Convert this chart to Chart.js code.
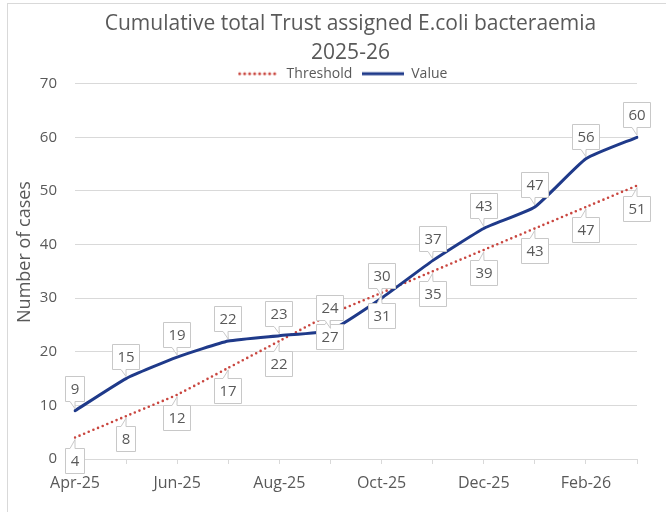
<!DOCTYPE html>
<html>
<head>
<meta charset="utf-8">
<script src="https://cdn.jsdelivr.net/npm/chart.js@4/dist/chart.umd.min.js"></script>
<style>
  html, body { margin: 0; padding: 0; background: #ffffff; }
  #wrap { position: relative; width: 666px; height: 512px; }
</style>
</head>
<body>
<div id="wrap"><canvas id="c" width="666" height="512"></canvas></div>
<script>
// Monthly categories (April 2025 – March 2026)
const months = ['Apr-25', 'May-25', 'Jun-25', 'Jul-25', 'Aug-25', 'Sep-25',
                'Oct-25', 'Nov-25', 'Dec-25', 'Jan-26', 'Feb-26', 'Mar-26'];
// Cumulative threshold trajectory
const threshold = [4, 8, 12, 17, 22, 27, 31, 35, 39, 43, 47, 51];
// Cumulative actual cases
const value = [9, 15, 19, 22, 23, 24, 30, 37, 43, 47, 56, 60];
// Title lines and axis range
const titleLines = ['Cumulative total Trust assigned E.coli bacteraemia', '2025-26'];
const yTitle = 'Number of cases';
const yMin = 0, yMax = 70, yStep = 10;

const FONT = "'Open Sans', 'Liberation Sans', sans-serif";
const TEXT = '#595959';
const RED = '#c9463f';
const NAVY = '#1f3a8a';

// Small legend swatches: dotted red and solid navy
function swatch(color, dotted) {
  const c = document.createElement('canvas');
  c.width = 42; c.height = 6;
  const g = c.getContext('2d');
  g.strokeStyle = color;
  g.lineWidth = 3;
  g.lineCap = dotted ? 'round' : 'butt';
  if (dotted) g.setLineDash([0, 5]);
  g.beginPath();
  g.moveTo(dotted ? 2 : 0, 3);
  g.lineTo(42, 3);
  g.stroke();
  return c;
}

// Light frame around the chart
const framePlugin = {
  id: 'frame',
  beforeDraw(chart) {
    const ctx = chart.ctx;
    ctx.save();
    ctx.strokeStyle = '#d9d9d9';
    ctx.lineWidth = 1;
    ctx.strokeRect(7.5, 3.5, 800, 800);
    ctx.restore();
  }
};

// Keep the legend row tight against the plot and centre title/legend
// over the full chart object
const layoutTweak = {
  id: 'layoutTweak',
  beforeLayout(chart) {
    const lg = chart.legend;
    if (lg && !lg._trimmed) {
      const fit = lg.fit.bind(lg);
      lg.fit = function () {
        fit();
        this.height = Math.max(0, this.height - 7);
      };
      lg._trimmed = true;
    }
  },
  afterLayout(chart) {
    const t = chart.titleBlock;
    if (t) { t.left += 28; t.right += 28; }
    const lg = chart.legend;
    if (lg) { lg.left += 20; lg.right += 20; }
  }
};

// Rotated value-axis title
const yTitlePlugin = {
  id: 'yTitle',
  afterDraw(chart) {
    const ctx = chart.ctx;
    ctx.save();
    ctx.translate(25, 252);
    ctx.rotate(-Math.PI / 2);
    ctx.font = '18px ' + FONT;
    ctx.fillStyle = TEXT;
    ctx.textAlign = 'center';
    ctx.textBaseline = 'middle';
    ctx.fillText(yTitle, 0, 0);
    ctx.restore();
  }
};

// Boxed value labels with a small pointer to each point
const calloutPlugin = {
  id: 'callouts',
  afterDatasetsDraw(chart) {
    const ctx = chart.ctx;
    ctx.save();
    ctx.font = '15px ' + FONT;
    ctx.textAlign = 'center';
    ctx.textBaseline = 'middle';
    chart.data.datasets.forEach((ds, di) => {
      const meta = chart.getDatasetMeta(di);
      const above = ds.label === 'Value';
      meta.data.forEach((pt, i) => {
        const text = String(ds.data[i]);
        const tw = ctx.measureText(text).width;
        const w = Math.round(tw + 10), h = 25, gap = 10;
        const cx = Math.round(pt.x);
        const bx = cx - Math.round(w / 2) + 0.5;
        const by = Math.round(above ? pt.y - gap - h : pt.y + gap) + 0.5;
        const edge = above ? by + h : by;
        const far = above ? by : by + h;
        ctx.beginPath();
        ctx.moveTo(bx, far);
        ctx.lineTo(bx + w, far);
        ctx.lineTo(bx + w, edge);
        ctx.lineTo(cx, edge);
        ctx.lineTo(pt.x, above ? pt.y - 2 : pt.y + 2);
        ctx.lineTo(cx - 5, edge);
        ctx.lineTo(bx, edge);
        ctx.closePath();
        ctx.fillStyle = '#ffffff';
        ctx.fill();
        ctx.strokeStyle = '#c8c8c8';
        ctx.lineWidth = 1;
        ctx.stroke();
        ctx.fillStyle = TEXT;
        ctx.fillText(text, bx + w / 2, by + h / 2 + 1);
      });
    });
    ctx.restore();
  }
};

new Chart(document.getElementById('c'), {
  type: 'line',
  data: {
    labels: months,
    datasets: [
      {
        label: 'Threshold',
        data: threshold,
        borderColor: RED,
        borderWidth: 2.6,
        borderDash: [0, 5],
        borderCapStyle: 'round',
        pointRadius: 0,
        pointStyle: swatch(RED, true),
        tension: 0.15,
        fill: false,
        order: 1
      },
      {
        label: 'Value',
        data: value,
        borderColor: NAVY,
        borderWidth: 3,
        borderCapStyle: 'round',
        pointRadius: 0,
        pointStyle: swatch(NAVY, false),
        tension: 0.15,
        fill: false,
        order: 0
      }
    ]
  },
  options: {
    responsive: false,
    animation: false,
    layout: { padding: { left: 8, right: 29, top: 0, bottom: 0 } },
    plugins: {
      tooltip: { enabled: false },
      title: {
        display: true,
        text: titleLines,
        color: TEXT,
        font: { family: FONT, size: 21, weight: 'normal', lineHeight: 1.35 },
        padding: { top: 10, bottom: -10 }
      },
      legend: {
        display: true,
        position: 'top',
        labels: {
          color: TEXT,
          font: { family: FONT, size: 14 },
          usePointStyle: true,
          pointStyleWidth: 42,
          padding: 10,
          sort: (a, b) => a.datasetIndex - b.datasetIndex
        }
      }
    },
    scales: {
      x: {
        offset: false,
        grid: {
          drawOnChartArea: false,
          drawTicks: true,
          tickLength: 5,
          color: '#d9d9d9'
        },
        border: { display: true, color: '#d9d9d9' },
        ticks: {
          autoSkip: false,
          maxRotation: 0,
          padding: 10,
          color: TEXT,
          font: { family: FONT, size: 16 },
          callback: (v, i) => (i % 2 === 0 ? months[i] : '')
        },
        afterFit(scale) { scale.height = 53; }
      },
      y: {
        min: yMin,
        max: yMax,
        ticks: {
          stepSize: yStep,
          padding: 18,
          color: TEXT,
          font: { family: FONT, size: 15 }
        },
        grid: { color: '#d9d9d9', drawTicks: false },
        border: { display: false },
        afterFit(scale) { scale.width = 67; }
      }
    }
  },
  plugins: [framePlugin, layoutTweak, yTitlePlugin, calloutPlugin]
});
</script>
</body>
</html>
